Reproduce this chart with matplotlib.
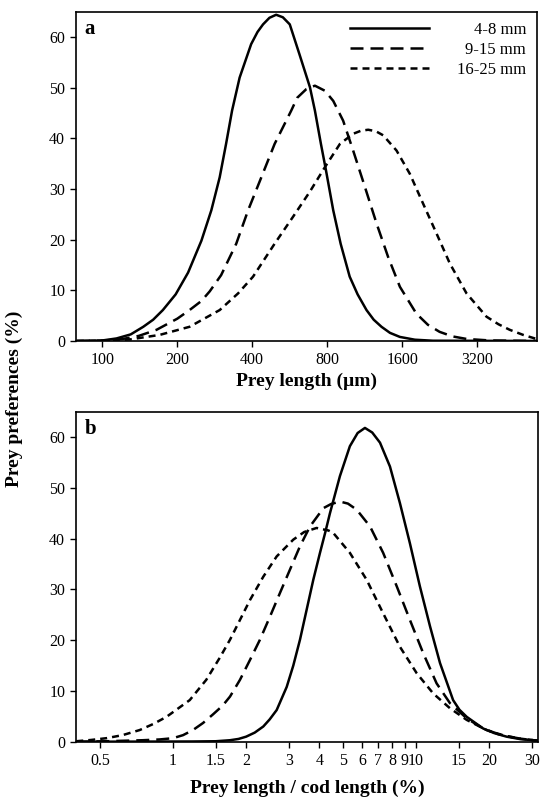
import matplotlib
matplotlib.use("Agg")
from matplotlib import pyplot as plt
from matplotlib.transforms import IdentityTransform

plt.rcParams['font.family'] = ['Liberation Serif', 'DejaVu Serif']

# ---- panel a: preference vs prey length (um)
a_solid_x = [79, 100, 114, 130, 146, 160, 175, 197, 221, 250, 274, 296, 314, 332, 356, 396, 420, 442, 469,
             499, 531, 566, 619, 682, 714, 755, 791, 846, 906, 985, 1060, 1151, 1230, 1322, 1430, 1567,
             1800, 2126, 5560]
a_solid_y = [0, 0.1, 0.5, 1.3, 2.8, 4.2, 6.1, 9.2, 13.5, 19.8, 25.8, 32.3, 38.9, 45.5, 52.0, 58.6, 61.0, 62.5, 63.8,
             64.4, 63.9, 62.5, 56.6, 50.1, 45.5, 38.9, 33.7, 25.8, 19.2, 12.7, 9.2, 6.1, 4.2, 2.8, 1.6, 0.8,
             0.25, 0.05, 0]

a_dash_x = [79, 100, 121, 140, 165, 200, 224, 250, 270, 300, 345, 385, 435, 492, 574, 606, 659, 714, 783, 846,
            927, 1017, 1134, 1263, 1405, 1567, 1825, 2030, 2263, 2550, 2904, 3600, 5560]
a_dash_y = [0, 0.05, 0.4, 1.0, 2.2, 4.4, 6.1, 7.9, 9.8, 13.0, 19.2, 25.8, 32.3, 38.9, 45.5, 48.0, 49.7, 50.4, 49.4, 47.4,
            43.5, 37.6, 30.4, 23.2, 16.6, 10.7, 5.4, 3.2, 1.8, 0.9, 0.4, 0.1, 0]

a_sdash_x = [79, 100, 129, 170, 224, 296, 351, 403, 492, 583, 682, 783, 900, 1017, 1093, 1169, 1255,
             1343, 1519, 1718, 1943, 2200, 2487, 2902, 3490, 3900, 4330, 4900, 5460, 5560]
a_sdash_y = [0, 0.05, 0.3, 1.2, 2.8, 6.1, 9.4, 12.7, 19.2, 24.5, 29.5, 34.3, 38.9, 40.9, 41.5, 41.7, 41.4,
             40.6, 37.6, 33.0, 27.1, 21.2, 15.3, 9.4, 4.8, 3.3, 2.2, 1.2, 0.5, 0.4]

a_ticks = [100, 200, 400, 800, 1600, 3200]

# ---- panel b: preference vs prey length / cod length (%)
b_solid_x = [0.40, 1.2, 1.5, 1.717, 1.86, 2.0, 2.17, 2.353, 2.5, 2.672, 2.938, 3.127, 3.332, 3.549, 3.78,
             4.027, 4.222, 4.426, 4.864, 5.346, 5.754, 6.166, 6.607, 7.112, 7.816, 8.590, 9.441, 10.38,
             11.43, 12.56, 14.22, 15.1, 16.18, 18.92, 21.0, 23.6, 27.0, 30.4, 31.7]
b_solid_y = [0, 0.05, 0.1, 0.3, 0.55, 1.0, 1.8, 3.0, 4.4, 6.25, 10.8, 15.0, 20.1, 26.0, 31.9,
             37.2, 41.0, 45.0, 52.3, 58.2, 60.8, 61.8, 60.9, 58.9, 54.2, 47.0, 39.1, 30.6,
             22.7, 15.5, 8.2, 6.3, 4.9, 2.6, 1.7, 1.0, 0.5, 0.3, 0.2]

b_dash_x = [0.40, 0.532, 0.75, 0.88, 1.0, 1.1, 1.208, 1.33, 1.462, 1.6, 1.717, 1.887, 2.074, 2.28, 2.51,
            2.756, 3.03, 3.332, 3.664, 4.159, 4.467, 4.864, 5.248, 5.702, 6.471, 7.328, 8.337, 9.441,
            10.72, 12.16, 13.80, 16.18, 18.92, 21.0, 23.6, 27.0, 30.4, 31.7]
b_dash_y = [0, 0.1, 0.3, 0.45, 0.7, 1.3, 2.3, 3.7, 5.4, 7.1, 8.9, 12.2, 16.1, 20.1, 24.7,
            29.3, 33.9, 38.5, 42.4, 46.0, 46.8, 47.3, 46.9, 45.7, 42.4, 37.2, 30.6, 24.0,
            17.4, 11.5, 7.6, 4.6, 2.6, 1.8, 1.1, 0.6, 0.3, 0.2]

b_sdash_x = [0.40, 0.46, 0.532, 0.62, 0.729, 0.83, 0.940, 1.172, 1.371, 1.556, 1.717, 1.887, 2.074, 2.353,
             2.672, 3.127, 3.467, 3.899, 4.365, 4.571, 5.346, 6.266, 7.328, 8.590, 10.07, 11.78, 13.80,
             16.18, 19.54, 21.8, 24.38, 27.0, 30.4, 31.7]
b_sdash_y = [0.1, 0.35, 0.7, 1.3, 2.3, 3.5, 4.9, 8.2, 12.2, 16.5, 20.1, 24.0, 27.9, 32.5,
             36.5, 39.8, 41.3, 42.1, 41.6, 41.1, 37.2, 31.9, 25.3, 18.7, 13.5, 9.5, 6.6,
             4.3, 2.3, 1.5, 1.0, 0.6, 0.3, 0.2]

b_ticks = [0.5, 1, 1.5, 2, 3, 4, 5, 6, 7, 8, 9, 10, 15, 20, 30]
b_ticklabels = ['0.5', '1', '1.5', '2', '3', '4', '5', '6', '7', '8', '9', '10', '15', '20', '30']

groups = ['4-8 mm', '9-15 mm', '16-25 mm']
styles = ['-', (0, (5.2, 2.8)), (0, (2.8, 2.0))]
lw = 1.8

fig = plt.figure(figsize=(5.45, 8.08), dpi=100)
ax_a = fig.add_axes([0.140, 0.578, 0.845, 0.4075])
ax_b = fig.add_axes([0.140, 0.082, 0.8466, 0.4085])

# panel a
for xs, ys, ls, lab in zip([a_solid_x, a_dash_x, a_sdash_x], [a_solid_y, a_dash_y, a_sdash_y], styles, groups):
    ax_a.plot(xs, ys, color='black', lw=lw, linestyle=ls, label=lab, solid_joinstyle='round')
ax_a.set_xscale('log', base=2)
ax_a.set_xlim(78.6, 5560)
ax_a.set_xticks(a_ticks)
ax_a.set_xticklabels([str(t) for t in a_ticks])
ax_a.set_xlabel('Prey length (\u00b5m)', fontsize=14, fontweight='bold', labelpad=3)

# panel b
for xs, ys, ls in zip([b_solid_x, b_dash_x, b_sdash_x], [b_solid_y, b_dash_y, b_sdash_y], styles):
    ax_b.plot(xs, ys, color='black', lw=lw, linestyle=ls, solid_joinstyle='round')
ax_b.set_xscale('log')
ax_b.set_xlim(0.40, 31.7)
ax_b.set_xticks(b_ticks)
ax_b.set_xticklabels(b_ticklabels)
ax_b.set_xlabel('Prey length / cod length (%)', fontsize=14, fontweight='bold', labelpad=8)

for ax, letter in [(ax_a, 'a'), (ax_b, 'b')]:
    ax.set_ylim(0, 65)
    ax.set_yticks([0, 10, 20, 30, 40, 50, 60])
    ax.minorticks_off()
    ax.tick_params(direction='out', length=4, width=1, labelsize=11.5, pad=4,
                   top=False, right=False)
    for s in ax.spines.values():
        s.set_linewidth(1.2)
    ax.text(0.018, 0.978, letter, transform=ax.transAxes, ha='left', va='top',
            fontsize=15, fontweight='bold')

fig.text(0.026, 0.507, 'Prey preferences (%)', rotation=90, ha='center', va='center',
         fontsize=14, fontweight='bold')

leg = ax_a.legend(loc='upper right', bbox_to_anchor=(0.995, 0.995), frameon=False, fontsize=12,
                  handlelength=4.7, handletextpad=1.7, labelspacing=0.25, borderaxespad=0.1)

# legend labels are right-aligned in the original: redraw them flush right
fig.canvas.draw()
r = fig.canvas.get_renderer()
texts = leg.get_texts()
x_right = max(t.get_window_extent(r).x1 for t in texts)
for t in texts:
    x0, y0 = t.get_transform().transform(t.get_position())
    fig.text(x_right, y0, t.get_text(), ha='right', va='baseline', fontsize=12,
             transform=IdentityTransform())
    t.set_visible(False)

fig.savefig('out.png', dpi=100)
